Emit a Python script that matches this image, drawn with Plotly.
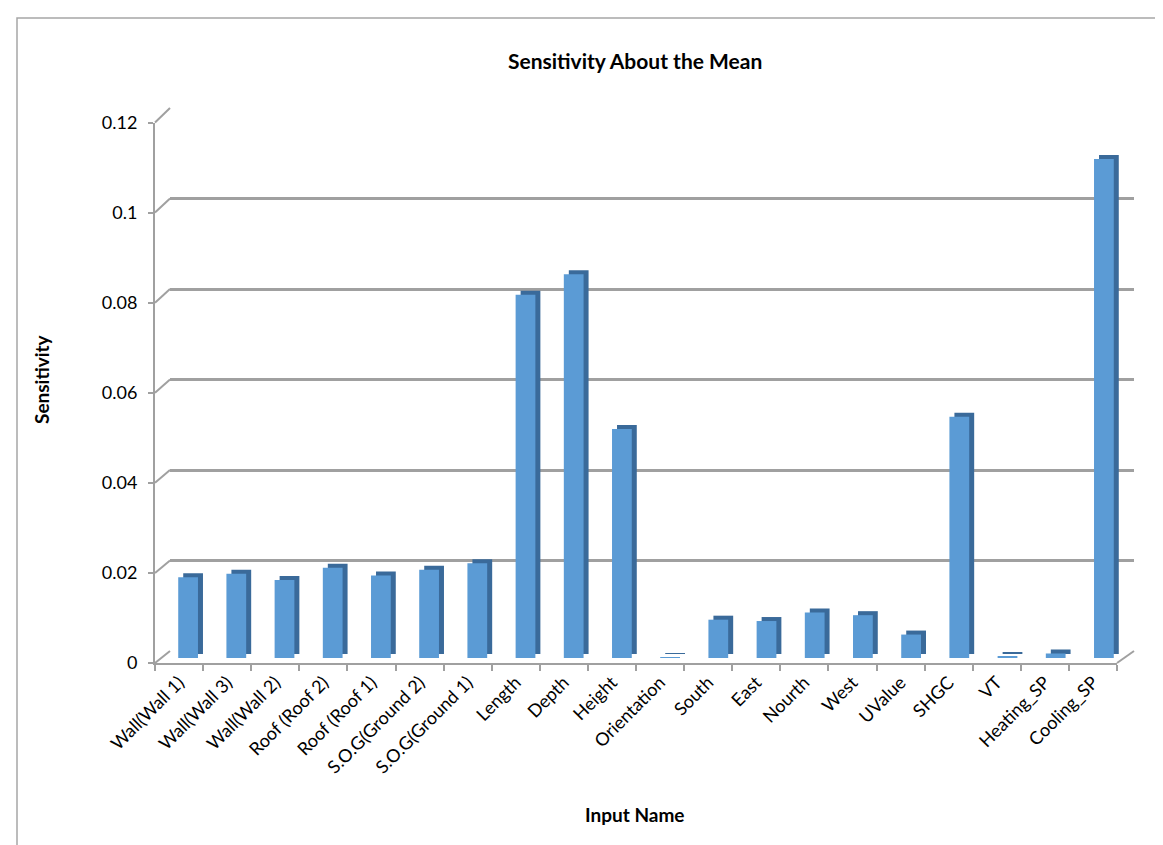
import plotly.graph_objects as go

categories = ["Wall(Wall 1)", "Wall(Wall 3)", "Wall(Wall 2)", "Roof (Roof 2)", "Roof (Roof 1)",
              "S.O.G(Ground 2)", "S.O.G(Ground 1)", "Length", "Depth", "Height", "Orientation",
              "South", "East", "Nourth", "West", "UValue", "SHGC", "VT", "Heating_SP", "Cooling_SP"]
sensitivity = [0.0179, 0.0187, 0.0173, 0.0200, 0.0183, 0.0196, 0.0210, 0.0806, 0.0851, 0.0508,
               0.0002, 0.0085, 0.0082, 0.0101, 0.0095, 0.0052, 0.0535, 0.0004, 0.0010, 0.1107]
y_ticks = [0, 0.02, 0.04, 0.06, 0.08, 0.1, 0.12]
y_tick_text = ["0", "0.02", "0.04", "0.06", "0.08", "0.1", "0.12"]

W, H = 1163, 845
YMAX = 0.12
FONT = "Lato"
GRID = "#A0A0A0"
FRONT = "#5B9BD5"
SIDE = "#3A6A9A"


def fx(px):
    return px / W


def fy(py):
    return 1 - py / H


# pixel geometry (layout only)
front = dict(x0=147, x1=1109, y0=655, y1=114.5)
back = dict(x0=162, x1=1126, y0=643, y1=100)
bars = dict(x0=156, x1=1120, y0=650, y1=109)
shadow = dict(x0=161, x1=1125, y0=646, y1=105)

fig = go.Figure()
bw = 0.41
clear = dict(color="rgba(0,0,0,0)", line=dict(width=0))
fig.add_trace(go.Bar(x=categories, y=sensitivity, xaxis="x", yaxis="y", width=bw,
                     marker=clear, hoverinfo="skip", showlegend=False))
fig.add_trace(go.Bar(x=categories, y=sensitivity, xaxis="x2", yaxis="y2", width=bw,
                     marker=dict(color=SIDE, line=dict(width=0)), hoverinfo="skip", showlegend=False))
fig.add_trace(go.Bar(x=categories, y=sensitivity, xaxis="x3", yaxis="y3", width=bw,
                     marker=dict(color=FRONT, line=dict(width=0)), showlegend=False))
fig.add_trace(go.Bar(x=categories, y=sensitivity, xaxis="x4", yaxis="y4", width=bw,
                     marker=clear, hoverinfo="skip", showlegend=False))


def xdom(g):
    return [fx(g["x0"]), fx(g["x1"])]


def ydom(g):
    return [fy(g["y0"]), fy(g["y1"])]


hidden_x = dict(visible=False, type="category", range=[-0.5, len(categories) - 0.5], automargin=False)
hidden_y = dict(visible=False, range=[0, YMAX], automargin=False)

fig.update_layout(
    template="none",
    width=W, height=H, margin=dict(l=0, r=0, t=0, b=0, autoexpand=False),
    paper_bgcolor="white", plot_bgcolor="rgba(0,0,0,0)",
    font=dict(family=FONT, color="#000000"),
    showlegend=False,
    xaxis=dict(hidden_x, domain=xdom(back), anchor="y"),
    yaxis=dict(domain=ydom(back), anchor="x", range=[0, YMAX], tickvals=y_ticks,
               showticklabels=False, ticks="", showgrid=True, gridcolor=GRID, gridwidth=2.5,
               zeroline=False, showline=False, automargin=False),
    xaxis2=dict(hidden_x, domain=xdom(shadow), anchor="y2"),
    yaxis2=dict(hidden_y, domain=ydom(shadow), anchor="x2"),
    xaxis3=dict(hidden_x, domain=xdom(bars), anchor="y3"),
    yaxis3=dict(hidden_y, domain=ydom(bars), anchor="x3"),
    xaxis4=dict(domain=xdom(front), anchor="y4", type="category", automargin=False,
                range=[-0.5, len(categories) - 0.5], showgrid=False, showline=True,
                linecolor=GRID, linewidth=2, ticks="outside", tickson="boundaries",
                ticklen=6, tickcolor=GRID, tickwidth=1.5, tickangle=-45,
                tickfont=dict(family=FONT, size=18, color="#000000")),
    yaxis4=dict(domain=ydom(front), anchor="x4", range=[0, YMAX], tickvals=y_ticks,
                ticktext=y_tick_text, showgrid=False, zeroline=False, showline=True,
                linecolor=GRID, linewidth=2, ticks="outside", ticklen=5, tickcolor=GRID,
                tickwidth=1.5, ticklabelstandoff=7, automargin=False,
                tickfont=dict(family=FONT, size=18, color="#000000")),
)

shapes = []
# chart frame
shapes.append(dict(type="rect", xref="paper", yref="paper", x0=fx(9), x1=fx(W + 20),
                   y0=fy(H + 20), y1=fy(10), line=dict(color="#A6A6A6", width=1.5)))
# left diagonals from front ticks to back-wall gridlines
for v in y_ticks:
    yf = front["y0"] + (front["y1"] - front["y0"]) * v / YMAX
    yb = back["y0"] + (back["y1"] - back["y0"]) * v / YMAX
    shapes.append(dict(type="line", xref="paper", yref="paper", x0=fx(front["x0"]), y0=fy(yf),
                       x1=fx(back["x0"]), y1=fy(yb), line=dict(color=GRID, width=2)))
# right floor edge
shapes.append(dict(type="line", xref="paper", yref="paper", x0=fx(front["x1"]), y0=fy(front["y0"]),
                   x1=fx(back["x1"]), y1=fy(back["y0"]), line=dict(color=GRID, width=2)))
fig.update_layout(shapes=shapes)

fig.update_layout(annotations=[
    dict(text="<b>Sensitivity About the Mean</b>", xref="paper", yref="paper", x=fx(627), y=fy(52),
         showarrow=False, font=dict(family=FONT, size=21, color="#000000"), xanchor="center", yanchor="middle"),
    dict(text="<b>Sensitivity</b>", xref="paper", yref="paper", x=fx(33), y=fy(371), textangle=-90,
         showarrow=False, font=dict(family=FONT, size=19, color="#000000"), xanchor="center", yanchor="middle"),
    dict(text="<b>Input Name</b>", xref="paper", yref="paper", x=fx(627), y=fy(806),
         showarrow=False, font=dict(family=FONT, size=19, color="#000000"), xanchor="center", yanchor="middle"),
])

fig.write_html("out.html")
